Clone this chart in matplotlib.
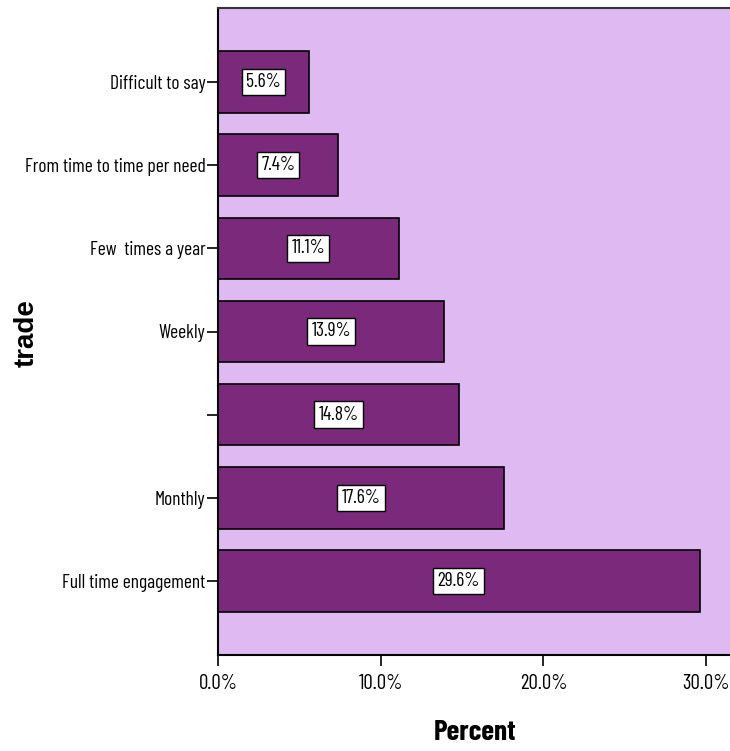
import matplotlib
matplotlib.use("Agg")
from matplotlib import pyplot as plt
from matplotlib import font_manager

categories = ['Full time engagement', 'Monthly', '', 'Weekly', 'Few  times a year',
              'From time to time per need', 'Difficult to say']
percents = [29.6, 17.6, 14.8, 13.9, 11.1, 7.4, 5.6]
x_ticks = [0, 10, 20, 30]
x_tick_labels = ['0.0%', '10.0%', '20.0%', '30.0%']

names = {f.name for f in font_manager.fontManager.ttflist}


def pick(options):
    for name in options:
        if name in names:
            return name
    return 'DejaVu Sans'


narrow = pick(['Barlow Condensed', 'Archivo Narrow', 'Liberation Sans Narrow'])
sans = pick(['Liberation Sans', 'Arimo', 'DejaVu Sans'])

bg_color = '#DEB9F2'
bar_color = '#7B297B'

fig = plt.figure(figsize=(7.30, 7.51), dpi=100)
ax = fig.add_axes([218 / 730, 1 - 655 / 751, 512 / 730, (655 - 8) / 751])
ax.set_facecolor(bg_color)

pos = list(range(len(categories)))
ax.barh(pos, percents, height=0.74, color=bar_color, edgecolor='black', linewidth=1.2, zorder=2)

for p, v in zip(pos, percents):
    ax.text(v / 2, p, f'{v:.1f}%', ha='center', va='center', fontsize=14, family=narrow,
            bbox=dict(boxstyle='square,pad=0.22', facecolor='white', edgecolor='black', linewidth=1),
            zorder=3)

ax.set_xlim(0, 31.47)
ax.set_ylim(-0.89, len(categories) - 1 + 0.89)
ax.set_xticks(x_ticks)
ax.set_xticklabels(x_tick_labels, family=narrow, fontsize=15)
ax.set_yticks(pos)
ax.set_yticklabels(categories, family=narrow, fontsize=14)
ax.tick_params(axis='both', length=8, width=1.2, color='black', pad=1)
ax.tick_params(axis='x', pad=6)

for side in ['left', 'bottom']:
    ax.spines[side].set_linewidth(1.5)
    ax.spines[side].set_color('black')
ax.spines['top'].set_linewidth(1.5)
ax.spines['top'].set_color('#333333')
ax.spines['right'].set_visible(False)

fig.text(475 / 730, 1 - 732 / 751, 'Percent', ha='center', va='center', fontsize=21,
         fontweight='bold', family=narrow)
fig.text(27 / 730, 1 - 333 / 751, 'trade', ha='center', va='center', rotation=90,
         fontsize=20, fontweight='bold', family=sans)

fig.savefig('out.png', dpi=100)
